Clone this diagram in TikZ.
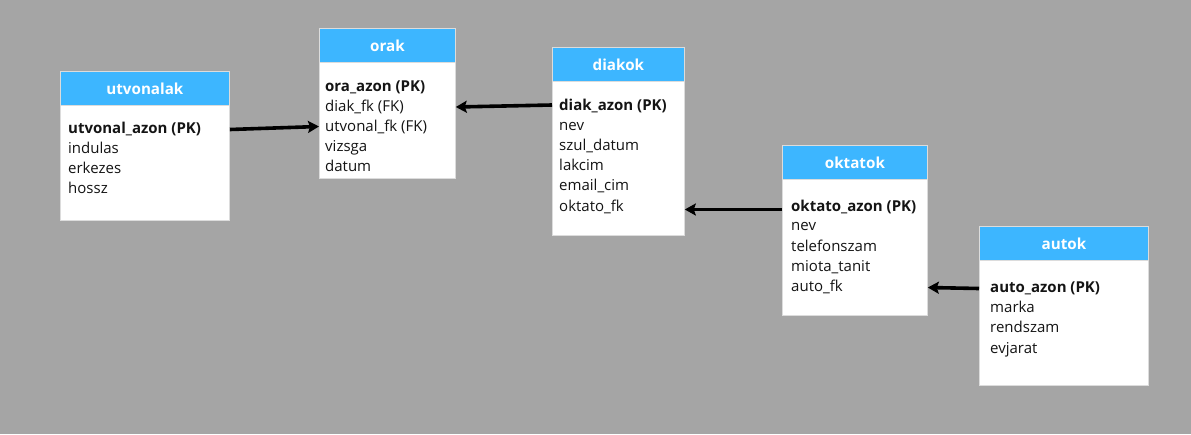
\documentclass[tikz,border=0pt]{standalone}
\usepackage{fontspec}
\setmainfont{Open Sans}
\usetikzlibrary{arrows.meta,calc}
\definecolor{bgc}{RGB}{165,165,165}
\definecolor{hdr}{RGB}{61,182,255}
\definecolor{edgec}{RGB}{220,220,220}
\definecolor{txt}{RGB}{20,20,20}
\tikzset{
  hdrbox/.style={fill=hdr, draw=edgec, line width=0.8pt, anchor=north west, inner sep=0pt,
    font=\fontsize{15.2}{17}\selectfont\bfseries, text=white},
  bodybox/.style={fill=white, draw=edgec, line width=0.8pt, anchor=north west, inner sep=0pt},
  field/.style={anchor=west, inner sep=0pt, font=\fontsize{15}{17}\selectfont,
    text height=11pt, text depth=3.2pt, text=txt, yshift=-1.5pt},
  pk/.style={field, font=\fontsize{15}{17}\selectfont\bfseries},
  fk/.style={line width=3.6pt, draw=black, -{Stealth[length=11pt,width=12pt,inset=2pt]}}
}
\begin{document}
\begin{tikzpicture}[x=1pt,y=-1pt]
\fill[bgc] (0,0) rectangle (1191,434);
\useasboundingbox (0,0) rectangle (1191,434);

% utvonalak
\node[bodybox, minimum width=169pt, minimum height=116pt] (utv-b) at (60,104) {};
\node[hdrbox, minimum width=169pt, minimum height=34pt] (utv-h) at (60,71) {utvonalak};
\node[pk] (utv-pk) at (68,128) {utvonal\_azon (PK)};
\node[field] (utv-f1) at (68,148) {indulas};
\node[field] (utv-f2) at (68,168) {erkezes};
\node[field] (utv-f3) at (68,188) {hossz};

% orak
\node[bodybox, minimum width=136pt, minimum height=116pt] (orak-b) at (319,62) {};
\node[hdrbox, minimum width=136pt, minimum height=34pt] (orak-h) at (319,28) {orak};
\node[pk] (orak-pk) at (325,86) {ora\_azon (PK)};
\node[field] (orak-diakfk) at (325,106) {diak\_fk (FK)};
\node[field] (orak-utvfk) at (325,126) {utvonal\_fk (FK)};
\node[field] (orak-f3) at (325,146) {vizsga};
\node[field] (orak-f4) at (325,166) {datum};

% diakok
\node[bodybox, minimum width=132pt, minimum height=154pt] (diak-b) at (552,81) {};
\node[hdrbox, minimum width=132pt, minimum height=34pt] (diak-h) at (552,47) {diakok};
\node[pk] (diak-pk) at (559,105) {diak\_azon (PK)};
\node[field] (diak-f1) at (559,125) {nev};
\node[field] (diak-f2) at (559,145) {szul\_datum};
\node[field] (diak-f3) at (559,165) {lakcim};
\node[field] (diak-f4) at (559,185) {email\_cim};
\node[field] (diak-oktfk) at (559,206) {oktato\_fk};

% oktatok
\node[bodybox, minimum width=145pt, minimum height=136pt] (okt-b) at (782,179) {};
\node[hdrbox, minimum width=145pt, minimum height=34pt] (okt-h) at (782,145) {oktatok};
\node[pk] (okt-pk) at (791,206) {oktato\_azon (PK)};
\node[field] (okt-f1) at (791,225) {nev};
\node[field] (okt-f2) at (791,246) {telefonszam};
\node[field] (okt-f3) at (791,266) {miota\_tanit};
\node[field] (okt-autofk) at (791,286) {auto\_fk};

% autok
\node[bodybox, minimum width=169pt, minimum height=125pt] (auto-b) at (979,260) {};
\node[hdrbox, minimum width=169pt, minimum height=34pt] (auto-h) at (979,226) {autok};
\node[pk] (auto-pk) at (990,287) {auto\_azon (PK)};
\node[field] (auto-f1) at (990,307) {marka};
\node[field] (auto-f2) at (990,327) {rendszam};
\node[field] (auto-f3) at (990,348) {evjarat};

% connectors
\draw[fk] ($(utv-pk -| utv-b.east)+(0,0)$) -- ($(orak-utvfk -| orak-b.west)+(0,-1)$);
\draw[fk] ($(diak-pk -| diak-b.west)+(0,-1.5)$) -- ($(orak-diakfk -| orak-b.east)+(0,-0.5)$);
\draw[fk] ($(okt-pk -| okt-b.west)+(0,2)$) -- ($(diak-oktfk -| diak-b.east)+(0,2)$);
\draw[fk] (auto-pk -| auto-b.west) -- (okt-autofk -| okt-b.east);
\end{tikzpicture}
\end{document}
